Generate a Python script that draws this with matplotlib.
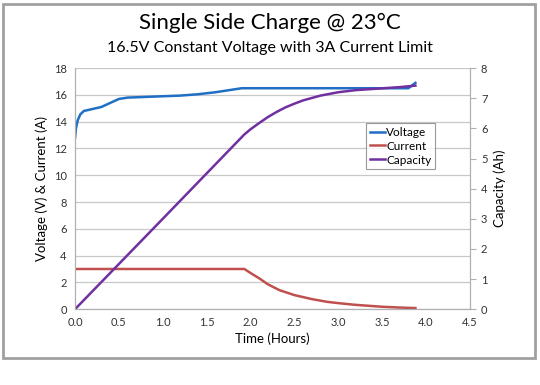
import matplotlib
matplotlib.use("Agg")
import matplotlib.pyplot as plt
from matplotlib.patches import Rectangle

plt.rcParams['font.family'] = ['Lato', 'DejaVu Sans']

# Voltage (V) vs time (hours)
volt_t = [0.0, 0.01, 0.03, 0.06, 0.1, 0.2, 0.3, 0.4, 0.5, 0.6, 0.8, 1.0, 1.2, 1.4, 1.6, 1.8, 1.9, 2.0, 2.5, 3.0, 3.5, 3.8, 3.88]
volt_v = [12.8, 13.5, 14.1, 14.55, 14.8, 14.95, 15.1, 15.4, 15.7, 15.8, 15.85, 15.9, 15.95, 16.05, 16.2, 16.4, 16.5, 16.5, 16.5, 16.5, 16.5, 16.5, 16.9]

# Current (A) vs time (hours)
curr_t = [0.0, 1.0, 1.93, 2.0, 2.1, 2.2, 2.33, 2.5, 2.7, 2.87, 3.0, 3.2, 3.5, 3.7, 3.88]
curr_v = [3.0, 3.0, 3.0, 2.7, 2.3, 1.85, 1.42, 1.05, 0.75, 0.55, 0.45, 0.32, 0.18, 0.12, 0.08]

# Capacity (Ah) vs time (hours)
cap_t = [0.0, 1.0, 1.93, 2.0, 2.1, 2.2, 2.3, 2.4, 2.5, 2.6, 2.8, 3.0, 3.2, 3.5, 3.7, 3.88]
cap_v = [0.0, 3.0, 5.8, 5.97, 6.18, 6.38, 6.55, 6.7, 6.82, 6.93, 7.09, 7.2, 7.27, 7.33, 7.37, 7.42]

fig = plt.figure(figsize=(5.4, 3.85), dpi=100)
fig.patches.append(Rectangle((0.006, 0.07), 0.985, 0.92, transform=fig.transFigure,
                             fill=False, edgecolor='#a0a0a0', linewidth=2))

ax = fig.add_axes([0.139, 0.197, 0.731, 0.626])
ax2 = ax.twinx()

l1, = ax.plot(volt_t, volt_v, color='#1F6FC5', linewidth=1.8, label='Voltage')
l2, = ax.plot(curr_t, curr_v, color='#C0504D', linewidth=1.8, label='Current')
l3, = ax2.plot(cap_t, cap_v, color='#7030A0', linewidth=1.8, label='Capacity')

ax.set_xlim(0, 4.5)
ax.set_ylim(0, 18)
ax2.set_ylim(0, 8)
ax.set_xticks([i * 0.5 for i in range(10)])
ax.set_xticklabels(['%.1f' % (i * 0.5) for i in range(10)])
ax.set_yticks(range(0, 19, 2))
ax2.set_yticks(range(0, 9))

ax.grid(axis='y', color='#c8c8c8', linewidth=0.9)
ax.set_axisbelow(True)
for a in (ax, ax2):
    for s in a.spines.values():
        s.set_color('#b0b0b0')
    a.spines['top'].set_visible(False)
    a.tick_params(labelsize=8, colors='#333333', length=0, pad=6)
ax2.tick_params(axis='y', length=4, color='#b0b0b0', pad=4)
ax.spines['bottom'].set_color('#999999')

ax.set_xlabel('Time (Hours)', fontsize=9.5, labelpad=3)
ax.set_ylabel('Voltage (V) & Current (A)', fontsize=9.5, labelpad=4)
ax2.set_ylabel('Capacity (Ah)', fontsize=9.5, labelpad=4)

fig.text(0.5, 0.94, 'Single Side Charge @ 23°C', ha='center', va='center', fontsize=16)
fig.text(0.5, 0.875, '16.5V Constant Voltage with 3A Current Limit', ha='center', va='center', fontsize=11.5)

leg = ax2.legend(handles=[l1, l2, l3], loc='upper left', bbox_to_anchor=(0.737, 0.772),
                 fontsize=8.5, frameon=True, fancybox=False, handlelength=1.3,
                 handletextpad=0.1, borderpad=0.3, labelspacing=0.25, borderaxespad=0)
leg.get_frame().set_edgecolor('#808080')
leg.get_frame().set_linewidth(0.8)

fig.savefig('out.png', dpi=100)
